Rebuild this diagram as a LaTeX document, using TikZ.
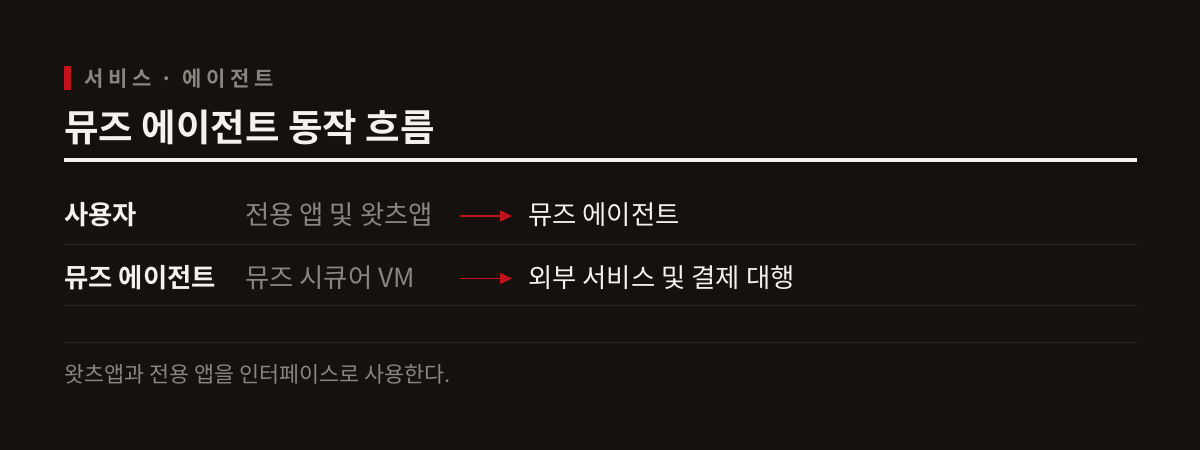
\documentclass[tikz,border=0pt]{standalone}
\usepackage{fontspec}
\setmainfont{Noto Sans CJK KR}[BoldFont={Noto Sans CJK KR Bold}]
\usetikzlibrary{arrows.meta, positioning}
\definecolor{bgdark}{HTML}{15110F}
\definecolor{paper}{HTML}{F4F2ED}
\definecolor{muted}{HTML}{8A857F}
\definecolor{accent}{HTML}{C4121C}
\definecolor{divider}{HTML}{2C2926}
\newfontfamily\kickerfont[LetterSpace=22]{Noto Sans CJK KR Bold}

\tikzset{
  txt/.style={anchor=base west, inner sep=0pt},
  kicker/.style={txt, text=muted, font=\kickerfont\fontsize{21}{24}\selectfont},
  heading/.style={txt, text=paper, font=\fontsize{37.5}{44}\selectfont\bfseries},
  rowkey/.style={txt, text=paper, font=\fontsize{26.4}{30}\selectfont\bfseries},
  rowvia/.style={txt, text=muted, font=\fontsize{26.4}{30}\selectfont},
  rowout/.style={txt, text=paper, font=\fontsize{26.4}{30}\selectfont},
  note/.style={txt, text=muted, font=\fontsize{21.8}{26}\selectfont},
  flow/.style={draw=accent, line width=1.6pt, -{Triangle[length=12pt,width=11pt]}},
  rule/.style={draw=divider, line width=1pt}
}

\begin{document}
\begin{tikzpicture}[x=1pt,y=-1pt]
  \def \ya{224.5}
  \def \yb{287}

  \fill[bgdark] (0,0) rectangle (1200,450);

  % header
  \fill[accent] (64,66) rectangle (71,90);
  \node[kicker] (tag) at (84,86) {서비스 · 에이전트};
  \node[heading] (title) at (64,141) {뮤즈 에이전트 동작 흐름};
  \fill[paper] (64,158) rectangle (1137,161.5);

  % rows
  \node[rowkey] (user) at (64,\ya) {사용자};
  \node[rowvia] (apps) at (245,\ya) {전용 앱 및 왓츠앱};
  \coordinate (fromA) at (460,\ya-8.5);
  \node[rowout] (agent) at (528,\ya) {뮤즈 에이전트};
  \draw[flow] (fromA) -- ([xshift=-16pt]agent.west |- fromA);
  \draw[rule] (64,244.5) -- (1137,244.5);

  \node[rowkey] (muse) at (64,\yb) {뮤즈 에이전트};
  \node[rowvia] (vm) at (245,\yb) {뮤즈 시큐어 VM};
  \coordinate (fromB) at (460,\yb-8.5);
  \node[rowout] (ext) at (528,\yb) {외부 서비스 및 결제 대행};
  \draw[flow] (fromB) -- ([xshift=-16pt]ext.west |- fromB);
  \draw[rule] (64,305.5) -- (1137,305.5);

  % footer
  \draw[rule] (64,342.5) -- (1137,342.5);
  \node[note] (foot) at (64,382) {왓츠앱과 전용 앱을 인터페이스로 사용한다.};
\end{tikzpicture}
\end{document}
